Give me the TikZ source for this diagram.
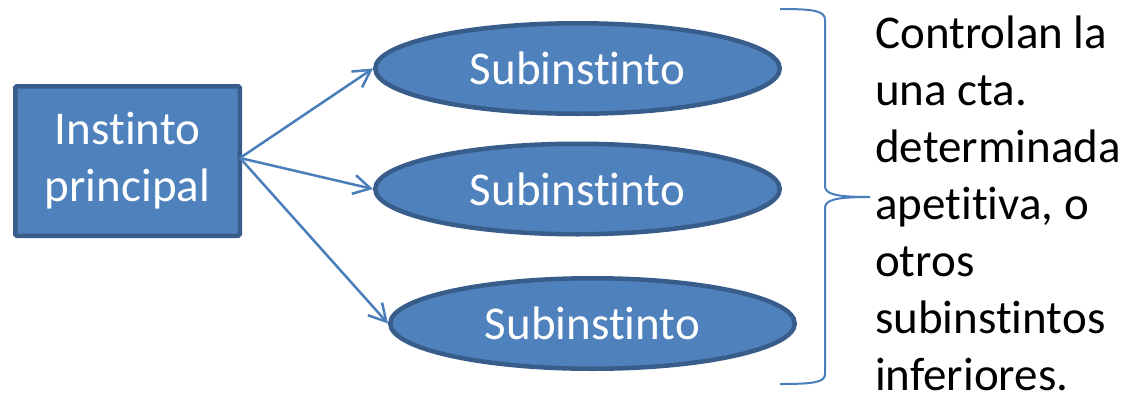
\documentclass[tikz,border=0pt]{standalone}
\usepackage{fontspec}
\setmainfont{Carlito}[Ligatures={NoCommon}]
\usetikzlibrary{shapes.geometric,arrows.meta}
\definecolor{boxfill}{HTML}{4F81BD}
\definecolor{boxline}{HTML}{385D8A}
\definecolor{conn}{HTML}{4A7EBB}
\begin{document}
\begin{tikzpicture}[x=1pt,y=-1pt,
  bigfont/.style={font=\fontsize{47}{57}\selectfont},
  mainbox/.style={draw=boxline,fill=boxfill,line width=4.5pt,rounded corners=1.5pt,
    minimum width=224.5pt,minimum height=149.5pt,inner sep=0pt,text=white,align=center,bigfont},
  subell/.style={ellipse,draw=boxline,fill=boxfill,line width=4.5pt,
    minimum width=404.5pt,minimum height=90.5pt,inner sep=0pt,text=white,bigfont},
  arr/.style={draw=conn,line width=2.5pt,-{Straight Barb[length=17pt,width=19pt,line width=2.5pt]}},
  brace/.style={draw=conn,line width=2pt}
]
\useasboundingbox (0,0) rectangle (1141,397);
\node[mainbox] (ip) at (127.5,161) {Instinto\\principal};
\node[subell] (s1) at (577.5,68.5) {Subinstinto};
\node[subell] (s2) at (577.5,189) {Subinstinto};
\node[subell] (s3) at (592.5,323.5) {Subinstinto};
\coordinate (src) at (240,158);
\draw[arr] (src) -- (s1.west);
\draw[arr] (src) -- (s2.west);
\draw[arr] (src) -- (s3.west);
\coordinate (bt) at (780,9);
\coordinate (bb) at (780,384);
\coordinate (btip) at (870,197);
\draw[brace] (bt) .. controls (815,9) and (825,11) .. (825,20)
  -- (825,186) .. controls (825,194) and (835,197) .. (btip)
  .. controls (835,197) and (825,200) .. (825,208)
  -- (825,374) .. controls (825,382) and (815,384) .. (bb);
\node[bigfont,align=left,anchor=base west,inner sep=0pt] (txt) at (875,390)
  {Controlan la\\una cta.\\determinada\\apetitiva, o\\otros\\subinstintos\\inferiores.};
\end{tikzpicture}
\end{document}
